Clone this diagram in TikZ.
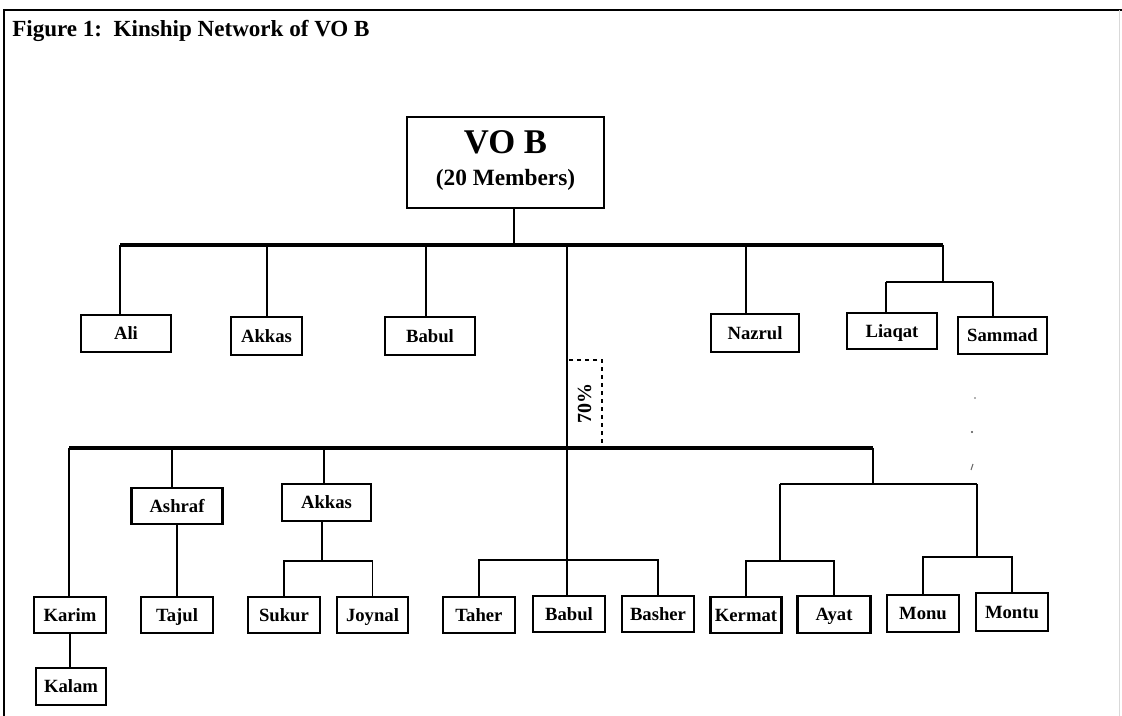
\documentclass[tikz,border=0pt]{standalone}
\usepackage{fontspec}
\setmainfont{Liberation Serif}
\begin{document}
\begin{tikzpicture}[x=0.75pt,y=-0.75pt,
  pbox/.style={draw, line width=1.6pt, inner sep=0pt, text height=9.2pt, text depth=0pt,
               font=\bfseries\fontsize{14}{16}\selectfont},
  bw/.style={minimum width=#1*0.75pt},
  bh/.style={minimum height=#1*0.75pt},
  conn/.style={line width=1.1pt},
  bar/.style={line width=3.2pt},
  frameline/.style={line width=1pt}]
\useasboundingbox (0,0) rectangle (1122,716);
% frame
\draw[frameline] (4,716) -- (4,10) -- (1122,10);
\draw[black!15, line width=0.6pt] (1119,10) -- (1119,716);
% title
\node[anchor=base west, inner sep=0pt, font=\bfseries\fontsize{17.3}{20}\selectfont] (title) at (12,37) {Figure 1:\ \ Kinship Network of VO B};
% root
\node[pbox, bw=197, bh=91] (vob) at (505.5,162.5) {};
\node[anchor=base, inner sep=0pt, font=\bfseries\fontsize{26}{28}\selectfont] (vobt) at (505.5,154) {VO B};
\node[anchor=base, inner sep=0pt, font=\bfseries\fontsize{17.5}{20}\selectfont] (vobs) at (505.5,186) {(20 Members)};
% first row
\node[pbox, bw=90, bh=37] (ali) at (126,333.5) {Ali};
\node[pbox, bw=71, bh=38] (akkasA) at (266.5,336) {Akkas};
\node[pbox, bw=90, bh=38] (babulA) at (430,336) {Babul};
\node[pbox, bw=88, bh=38] (nazrul) at (755,333) {Nazrul};
\node[pbox, bw=90, bh=36] (liaqat) at (892,331) {Liaqat};
\node[pbox, bw=89, bh=37] (sammad) at (1002.5,335.5) {Sammad};
% 70% box
\node[draw, dash pattern=on 3pt off 3pt, line width=1pt, inner sep=0pt, bw=35, bh=88,
      font=\bfseries\fontsize{15}{17}\selectfont] (pct) at (584.5,404) {\rotatebox{90}{70\%}};
% second level
\node[pbox, bw=72, bh=36] (karim) at (70,615) {Karim};
\node[pbox, bw=70, bh=37] (kalam) at (71,686.5) {Kalam};
\node[pbox, bw=91, bh=36] (ashraf) at (177,506) {Ashraf};
\node[pbox, bw=72, bh=36] (tajul) at (177,615) {Tajul};
\node[pbox, bw=89, bh=37] (akkasB) at (326.5,502.5) {Akkas};
\node[pbox, bw=72, bh=36] (sukur) at (284,615) {Sukur};
\node[pbox, bw=71, bh=36] (joynal) at (372.5,615) {Joynal};
\node[pbox, bw=72, bh=36] (taher) at (479,615) {Taher};
\node[pbox, bw=72, bh=36] (babulB) at (569,614) {Babul};
\node[pbox, bw=72, bh=36] (basher) at (658,614) {Basher};
\node[pbox, bw=71, bh=36] (kermat) at (746,615) {Kermat};
\node[pbox, bw=73, bh=37] (ayat) at (834,614.5) {Ayat};
\node[pbox, bw=72, bh=37] (monu) at (923,613.5) {Monu};
\node[pbox, bw=72, bh=38] (montu) at (1012,612) {Montu};
% --- connectors, top bar
\coordinate (b1L) at (120,245);
\coordinate (b1R) at (943,245);
\coordinate (vobD) at (514,245);
\coordinate (dAkA) at (267,245);
\coordinate (dBaA) at (426,245);
\coordinate (dNaz) at (746,245);
\coordinate (sp) at (567,245);
\draw[bar] (b1L) -- (b1R);
\draw[conn] (vobD |- vob.south) -- (vobD);
\draw[conn] (b1L) -- (b1L |- ali.north);
\draw[conn] (dAkA) -- (dAkA |- akkasA.north);
\draw[conn] (dBaA) -- (dBaA |- babulA.north);
\draw[conn] (dNaz) -- (dNaz |- nazrul.north);
\coordinate (jL) at (943,282);
\coordinate (jL1) at (886,282);
\coordinate (jL2) at (993,282);
\draw[conn] (b1R) -- (jL);
\draw[conn] (jL1) -- (jL2);
\draw[conn] (jL1) -- (jL1 |- liaqat.north);
\draw[conn] (jL2) -- (jL2 |- sammad.north);
% spine
\draw[conn] (sp) -- (sp |- babulB.north);
% second bar
\coordinate (b2L) at (69,448);
\coordinate (b2R) at (873,448);
\coordinate (dAsh) at (172,448);
\coordinate (dAkB) at (324,448);
\draw[bar] (b2L) -- (b2R);
\draw[conn] (b2L) -- (b2L |- karim.north);
\draw[conn] (karim.south) -- (karim.south |- kalam.north);
\draw[conn] (dAsh) -- (dAsh |- ashraf.north);
\draw[conn] (ashraf.south) -- (ashraf.south |- tajul.north);
\draw[conn] (dAkB) -- (dAkB |- akkasB.north);
\coordinate (jAk) at (322,561);
\draw[conn] (jAk |- akkasB.south) -- (jAk);
\draw[conn] (sukur.north) |- (jAk) -| (joynal.north);
\coordinate (jTa) at (567,560);
\draw[conn] (taher.north) |- (jTa) -| (basher.north);
% right group
\coordinate (jR) at (873,484);
\coordinate (jR1) at (780,484);
\coordinate (jR2) at (977,484);
\coordinate (jK) at (780,561);
\coordinate (jM) at (977,557);
\draw[conn] (b2R) -- (jR);
\draw[conn] (jR1) -- (jR2);
\draw[conn] (jR1) -- (jK);
\draw[conn] (jR2) -- (jM);
\draw[conn] (kermat.north) |- (jK) -| (ayat.north);
\draw[conn] (monu.north) |- (jM) -| (montu.north);
% faint specks
\fill[black!60] (975,398) circle (0.6pt);
\fill[black!70] (972,432) circle (0.9pt);
\draw[black!60, line width=0.8pt] (971,470) -- (973,464);
\end{tikzpicture}
\end{document}
